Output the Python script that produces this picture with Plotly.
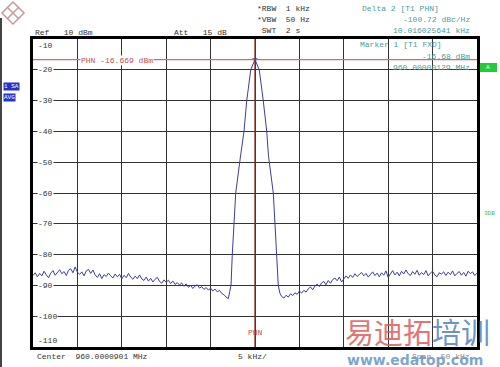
import numpy as np
import plotly.graph_objects as go

# ---------------- data ----------------
left_noise_db = [
    -86.8, -85.9, -87.2, -86.1, -86.9, -85.4, -86.6, -87.5, -86.0, -85.2,
    -86.7, -85.8, -84.9, -86.2, -85.5, -86.8, -85.1, -84.6, -85.9, -84.0,
    -85.7, -86.4, -85.6, -86.9, -85.3, -84.8, -86.1, -85.0, -86.6, -87.4,
    -86.2, -87.8, -86.5, -87.1, -86.0, -86.9, -87.6, -86.3, -87.2, -86.4,
    -87.9, -86.7, -87.5, -86.1, -87.3, -88.0, -87.0, -87.8, -86.6, -87.9,
    -88.4, -87.3, -88.6, -87.7, -88.9, -88.0, -87.4, -88.7, -89.3, -88.2,
    -89.0, -88.3, -89.4, -88.6, -89.7, -89.1, -89.9, -89.2, -90.3, -89.5,
    -90.6, -90.0, -91.0, -90.2, -89.8, -90.9, -90.4, -91.3, -90.7, -91.5,
    -90.9, -91.8, -91.2, -92.1, -91.6, -92.6, -93.0, -93.8, -94.3,
]
skirt_khz = [-2.85, -2.70, -2.56, -2.36, -2.17, -1.63, -1.24, -0.93, -0.48, 0.0,
             0.48, 0.93, 1.32, 1.52, 2.06, 2.25, 2.44, 2.62, 2.80]
skirt_db = [-92.0, -90.0, -80.0, -70.0, -60.0, -48.0, -40.0, -30.0, -20.0, -16.68,
            -20.0, -30.0, -40.0, -48.0, -60.0, -70.0, -80.0, -90.0, -92.5]
right_noise_db = [
    -93.6, -94.1, -93.2, -93.8, -92.7, -93.3, -92.4, -92.9, -91.8, -92.5,
    -91.6, -92.2, -91.1, -90.5, -91.4, -90.2, -89.6, -90.4, -89.2, -88.7,
    -89.8, -88.4, -89.3, -88.1, -87.6, -88.5, -87.3, -88.9, -87.8, -86.9,
    -87.7, -86.6, -87.4, -86.2, -87.1, -86.5, -85.8, -86.9, -86.1, -87.3,
    -86.4, -85.6, -86.8, -86.0, -87.2, -85.9, -86.7, -85.3, -87.4, -86.1,
    -85.2, -86.6, -85.7, -86.9, -85.4, -86.3, -85.0, -86.2, -86.8, -85.5,
    -86.4, -85.1, -86.7, -85.8, -86.5, -85.2, -86.9, -86.0, -85.4, -86.6,
    -87.2, -85.9, -86.3, -85.6, -86.8, -85.7, -86.5, -85.3, -86.9, -86.1,
    -85.5, -86.7, -85.8, -87.0, -85.4, -86.2, -85.6, -86.8, -86.0,
]
left_noise_khz = list(np.round(np.linspace(-25.0, -3.0, len(left_noise_db)), 3))
right_noise_khz = list(np.round(np.linspace(3.0, 25.0, len(right_noise_db)), 3))

freq_khz = left_noise_khz + skirt_khz + right_noise_khz
level_dbm = left_noise_db + skirt_db + right_noise_db

y_ticks = [-10, -20, -30, -40, -50, -60, -70, -80, -90, -100, -110]
marker_level = -16.669

# ---------------- geometry helpers ----------------
W, H = 500, 367
L, R, T, B = 33, 477, 39, 347


def px(x):
    return (x - L) / (R - L)


def py(y):
    return (B - y) / (B - T)


MONO = "Liberation Mono"

fig = go.Figure()
fig.add_trace(go.Scatter(
    x=freq_khz, y=level_dbm, mode="lines",
    line=dict(color="#3a3f9e", width=1), hoverinfo="skip", showlegend=False))

# marker at peak
fig.add_trace(go.Scatter(
    x=[0.0], y=[-16.68], mode="markers",
    marker=dict(symbol="triangle-down", size=5, color="#3a3f9e"),
    showlegend=False, hoverinfo="skip"))

fig.update_layout(
    width=W, height=H,
    margin=dict(l=L, r=W - R, t=T, b=H - B),
    paper_bgcolor="white", plot_bgcolor="white",
    xaxis=dict(range=[-25, 25], dtick=5, tick0=-25, showticklabels=False,
               showgrid=True, gridcolor="#333333", gridwidth=1.4,
               zeroline=False, showline=True, linecolor="black", linewidth=2.5,
               mirror=True, ticks=""),
    yaxis=dict(range=[-110, -10], dtick=10, tick0=-110, showticklabels=False,
               showgrid=True, gridcolor="#333333", gridwidth=1.4,
               zeroline=False, showline=True, linecolor="black", linewidth=2.5,
               mirror=True, ticks=""),
    font=dict(family=MONO, size=8, color="#333"),
)

# marker lines (red)
fig.add_shape(type="line", xref="paper", yref="y", x0=0, x1=1,
              y0=marker_level, y1=marker_level, line=dict(color="#d46a6a", width=1.2))
fig.add_shape(type="line", xref="x", yref="paper", x0=0, x1=0, y0=0, y1=1,
              line=dict(color="#8a2a1a", width=1.3))

annots = []


def txt(x, y, s, color="#333", size=8, anchor="left", bg=None, family=MONO, bold=False):
    d = dict(xref="paper", yref="paper", x=px(x), y=py(y), text=("<b>%s</b>" % s if bold else s),
             showarrow=False, xanchor=anchor, yanchor="middle",
             font=dict(family=family, size=size, color=color))
    if bg:
        d["bgcolor"] = bg
        d["borderpad"] = 0
    annots.append(d)


# y tick labels inside plot
for v in y_ticks:
    ypix = T + (-10 - v) / 100 * (B - T)
    if v == -10:
        ypix += 7
    elif v == -110:
        ypix -= 7
    txt(37, ypix, str(v), bg="white")

# header texts
txt(33, 32, "Ref   10 dBm")
txt(172, 32, "Att   15 dB")
txt(255, 8, "*RBW  1 kHz")
txt(255, 20, "*VBW  50 Hz")
txt(255, 31, " SWT  2 s")
teal = "#4e9c9c"
txt(360, 8, "Delta 2 [T1 PHN]", color=teal)
txt(472, 20, "-100.72 dBc/Hz", color=teal, anchor="right")
txt(472, 31, "10.016025641 kHz", color=teal, anchor="right")
txt(358, 45, "Marker 1 [T1 FXD]", color=teal)
txt(472, 57, "-16.68 dBm", color=teal, anchor="right")
txt(472, 68, "960.00000129 MHz", color=teal, anchor="right")

# marker line label
txt(80, 60, "PHN -16.669 dBm", color="#c0504d", bg="white")
txt(255, 332, "PHN", color="#c0504d", anchor="center")

# bottom texts
txt(35, 356, "Center  960.0000901 MHz")
txt(236, 356, "5 kHz/")
txt(410, 356, "Span  50 kHz", color="#888")

# side badges
txt(3, 86, "1 SA", color="white", size=6, bg="#2233cc")
txt(3, 97, "AVG", color="white", size=6, bg="#2233cc")
fig.add_shape(type="rect", xref="paper", yref="paper", x0=px(480), x1=px(497),
              y0=py(72), y1=py(63), fillcolor="#22cc33", line=dict(width=0))
txt(488.5, 67.5, "A", color="white", size=6, anchor="center")
txt(482, 213, "3DB", color="#44bb44", size=6)

# left frame line
fig.add_shape(type="line", xref="paper", yref="paper", x0=px(1), x1=px(1),
              y0=py(18), y1=py(367), line=dict(color="#444", width=2))

# R&S logo
cx, cy, r = 13, 13, 11
fig.add_shape(type="path", xref="paper", yref="paper",
              path="M %f %f L %f %f L %f %f L %f %f Z" % (
                  px(cx), py(cy - r), px(cx + r), py(cy), px(cx), py(cy + r), px(cx - r), py(cy)),
              line=dict(color="#c49a9a", width=1.5), fillcolor="rgba(0,0,0,0)")
fig.add_shape(type="line", xref="paper", yref="paper", x0=px(cx - 6), y0=py(cy - 6),
              x1=px(cx + 6), y1=py(cy + 6), line=dict(color="#c49a9a", width=1.5))
fig.add_shape(type="line", xref="paper", yref="paper", x0=px(cx - 6), y0=py(cy + 6),
              x1=px(cx + 6), y1=py(cy - 6), line=dict(color="#c49a9a", width=1.5))

# watermark
annots.append(dict(xref="paper", yref="paper", x=px(343), y=py(331), xanchor="left", yanchor="middle",
                   showarrow=False,
                   text="<span style='color:rgba(225,90,90,0.85)'>易迪拓</span>"
                        "<span style='color:rgba(80,130,190,0.85)'>培训</span>",
                   font=dict(family="Noto Sans CJK SC", size=29)))
annots.append(dict(xref="paper", yref="paper", x=px(345), y=py(360), xanchor="left", yanchor="middle",
                   showarrow=False, text="<b>www.edatop.com</b>",
                   font=dict(family="DejaVu Sans", size=14, color="rgba(100,150,200,0.85)")))

fig.update_layout(annotations=annots)
fig.write_html("out.html")
